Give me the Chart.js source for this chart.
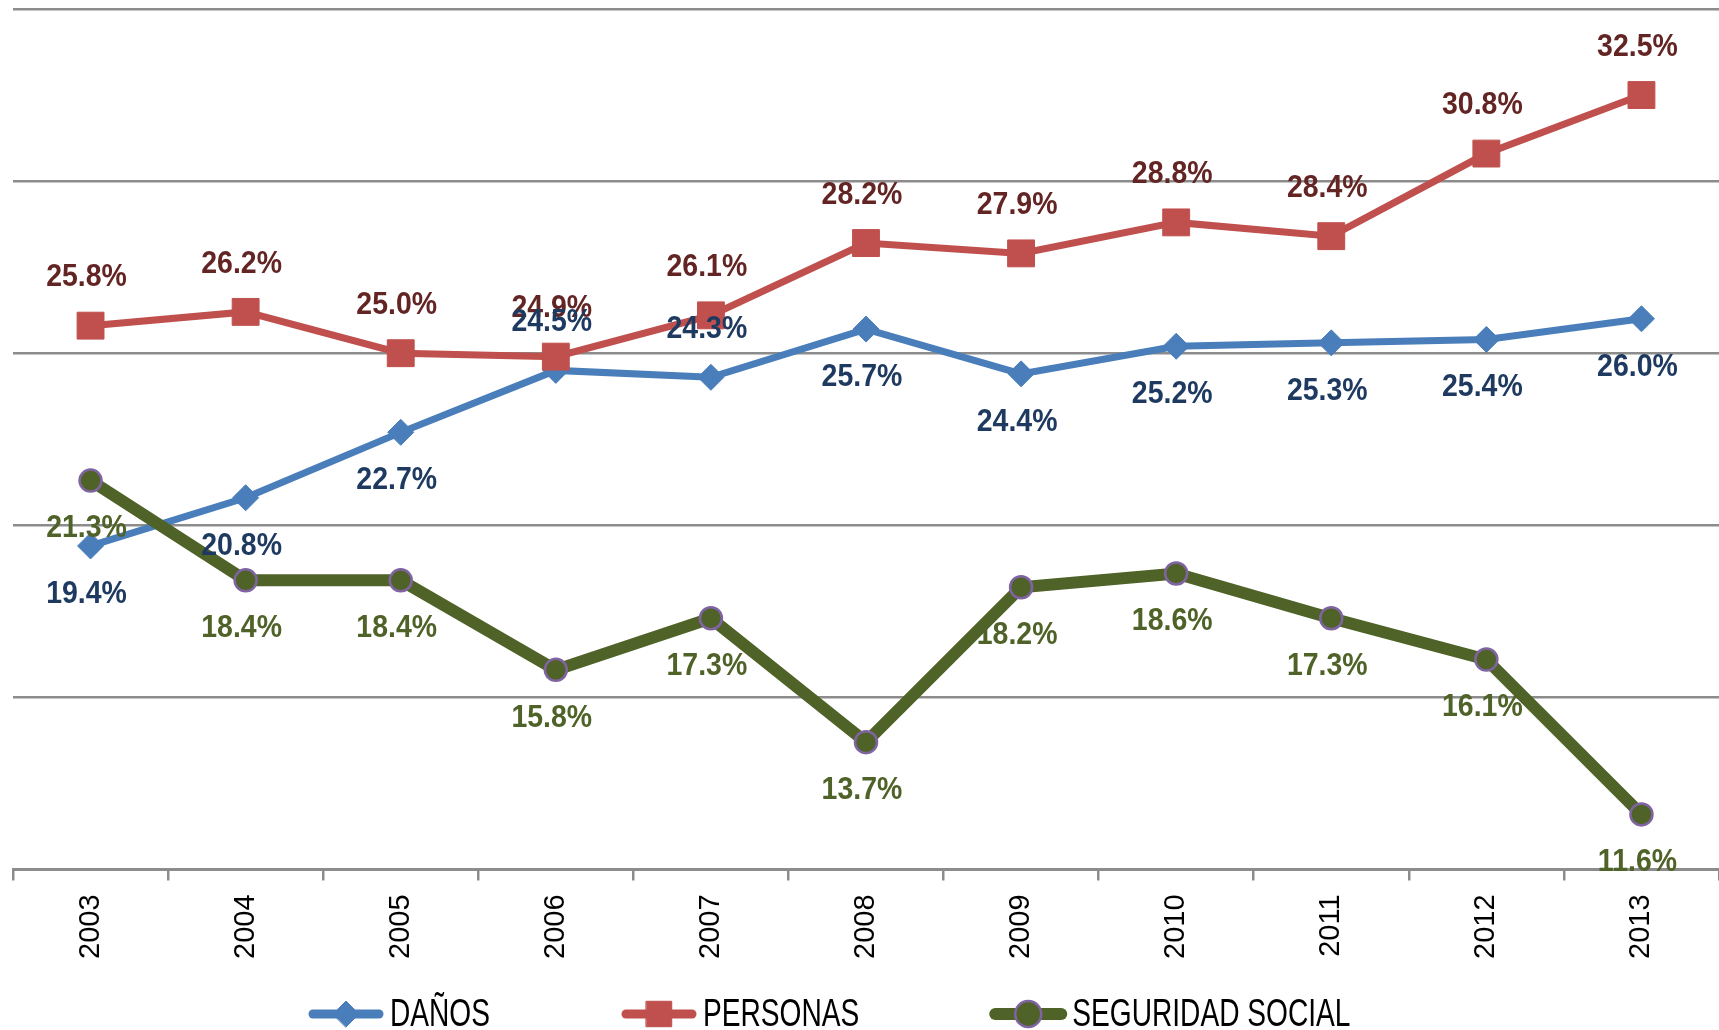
<!DOCTYPE html>
<html>
<head>
<meta charset="utf-8">
<script src="https://cdn.jsdelivr.net/npm/chart.js@4.4.1/dist/chart.umd.min.js"></script>
<style>
  html, body { margin: 0; padding: 0; background: #fff; }
</style>
</head>
<body>
<canvas id="seguros" width="1719" height="1030"></canvas>
<script>
const years = ['2003', '2004', '2005', '2006', '2007', '2008', '2009', '2010', '2011', '2012', '2013'];
const danos = [19.4, 20.8, 22.7, 24.5, 24.3, 25.7, 24.4, 25.2, 25.3, 25.4, 26.0];
const personas = [25.8, 26.2, 25.0, 24.9, 26.1, 28.2, 27.9, 28.8, 28.4, 30.8, 32.5];
const seguridad = [21.3, 18.4, 18.4, 15.8, 17.3, 13.7, 18.2, 18.6, 17.3, 16.1, 11.6];

const sans = '"Liberation Sans", Arial, sans-serif';

// where each series puts its value labels (DAÑOS flips above in 2006-2007)
const labelSide = {
    0: i => (i === 3 || i === 4) ? -1 : 1,
    1: () => -1,
    2: () => 1
};

// text squeezed horizontally, to mimic the narrow font of the original
function narrowText(ctx, text, x, y, sx) {
    ctx.save();
    ctx.translate(x, y);
    ctx.scale(sx, 1);
    ctx.fillText(text, 0, 0);
    ctx.restore();
}

// value labels, drawn after all lines so they sit on top
const valueLabels = {
    id: 'valueLabels',
    afterDatasetsDraw(chart) {
        const ctx = chart.ctx;
        ctx.save();
        ctx.font = 'bold 32px ' + sans;
        ctx.textAlign = 'center';
        ctx.textBaseline = 'middle';
        [1, 0, 2].forEach(di => {
            const ds = chart.data.datasets[di];
            const meta = chart.getDatasetMeta(di);
            ctx.fillStyle = ds.labelColor;
            meta.data.forEach((pt, i) => {
                const side = labelSide[di](i);
                narrowText(ctx, ds.data[i].toFixed(1) + '%', pt.x - 4, pt.y + side * 48, 0.89);
            });
        });
        ctx.restore();
    }
};

// legend with line + marker, spaced like the original
const lineLegend = {
    id: 'lineLegend',
    afterDraw(chart) {
        const ctx = chart.ctx;
        const y = 1014;
        const sx = 0.74;
        let x = 308;
        ctx.save();
        ctx.font = '38px ' + sans;
        ctx.textBaseline = 'middle';
        chart.data.datasets.forEach(ds => {
            ctx.strokeStyle = ds.borderColor;
            ctx.lineWidth = ds.legendLine;
            ctx.lineCap = 'round';
            ctx.beginPath();
            ctx.moveTo(x + 5, y);
            ctx.lineTo(x + 71, y);
            ctx.stroke();
            ctx.fillStyle = ds.pointBackgroundColor;
            ctx.strokeStyle = ds.pointBorderColor;
            ctx.lineWidth = ds.pointBorderWidth;
            Chart.helpers.drawPoint(ctx, {
                pointStyle: ds.pointStyle,
                radius: ds.legendRadius,
                borderWidth: ds.pointBorderWidth,
                rotation: 0
            }, x + 38, y);
            ctx.fillStyle = '#000';
            narrowText(ctx, ds.label, x + 82, y + 2, sx);
            x += 82 + ctx.measureText(ds.label).width * sx + 131;
        });
        ctx.restore();
    }
};

new Chart(document.getElementById('seguros'), {
    type: 'line',
    data: {
        labels: years,
        datasets: [
            {
                label: 'DAÑOS',
                data: danos,
                borderColor: '#4a7ebb',
                borderWidth: 7,
                pointStyle: 'rectRot',
                pointRadius: 13,
                pointBackgroundColor: '#4a7ebb',
                pointBorderColor: '#4a7ebb',
                pointBorderWidth: 1,
                labelColor: '#1f3a60',
                legendLine: 9,
                legendRadius: 13,
                order: 3
            },
            {
                label: 'PERSONAS',
                data: personas,
                borderColor: '#c0504d',
                borderWidth: 7,
                pointStyle: 'rect',
                pointRadius: 19,
                pointBackgroundColor: '#c0504d',
                pointBorderColor: '#c0504d',
                pointBorderWidth: 1,
                labelColor: '#632523',
                legendLine: 9,
                legendRadius: 18,
                order: 2
            },
            {
                label: 'SEGURIDAD SOCIAL',
                data: seguridad,
                borderColor: '#4f6228',
                borderWidth: 12,
                pointStyle: 'circle',
                pointRadius: 11,
                pointBackgroundColor: '#4f6228',
                pointBorderColor: '#8064a2',
                pointBorderWidth: 2.5,
                labelColor: '#4f6228',
                legendLine: 12,
                legendRadius: 13,
                order: 1
            }
        ]
    },
    options: {
        responsive: false,
        animation: false,
        tension: 0,
        layout: { autoPadding: false, padding: { left: 13, right: 0, top: 9, bottom: 57 } },
        plugins: {
            legend: { display: false },
            tooltip: { enabled: false }
        },
        scales: {
            x: {
                offset: true,
                grid: {
                    offset: true,
                    drawOnChartArea: false,
                    tickLength: 11,
                    color: '#8c8c8c',
                    lineWidth: 2.5
                },
                border: { color: '#8c8c8c', width: 3 },
                ticks: {
                    minRotation: 90,
                    maxRotation: 90,
                    padding: 14,
                    color: '#000',
                    font: { family: sans, size: 29 }
                }
            },
            y: {
                min: 10,
                max: 35,
                ticks: { display: false, stepSize: 5 },
                grid: { color: '#8c8c8c', lineWidth: 2.5, drawTicks: false },
                border: { display: false }
            }
        }
    },
    plugins: [valueLabels, lineLegend]
});
</script>
</body>
</html>
